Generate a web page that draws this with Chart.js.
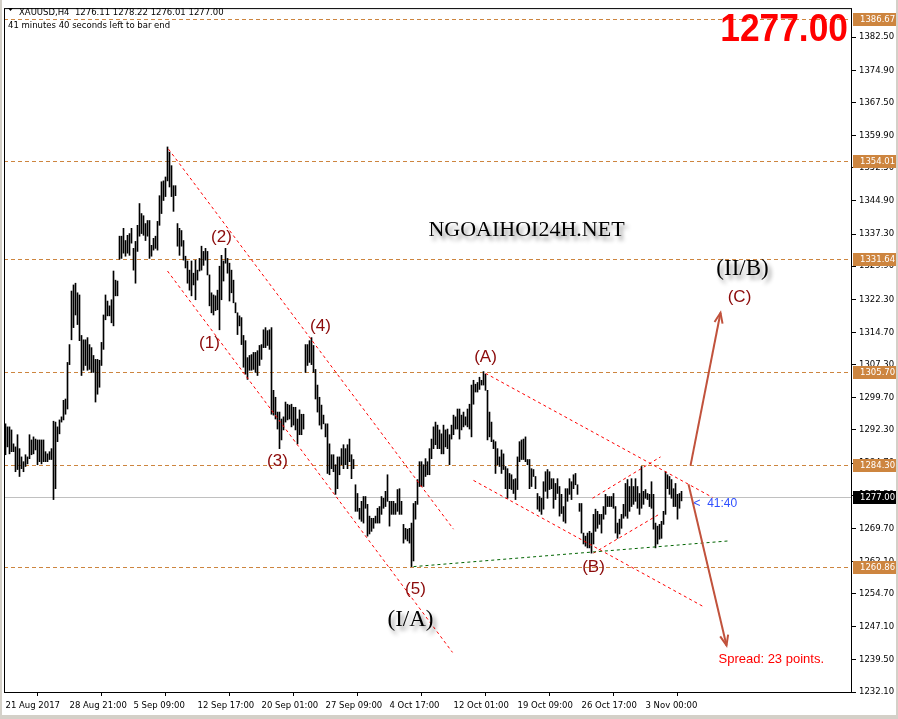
<!DOCTYPE html>
<html><head><meta charset="utf-8">
<script src="https://cdn.jsdelivr.net/npm/chart.js@4.4.1/dist/chart.umd.min.js"></script>
<style>
html,body{margin:0;padding:0;background:#fff;overflow:hidden;}
canvas{display:block;}
</style></head><body>
<canvas id="c" width="898" height="719"></canvas>
<script>
// ---- data (XAUUSD H4 bars: high / low) ----
const highs = [
1293.7,1293.0,1293.0,1292.3,1289.1,1288.4,1291.2,1288.0,1286.1,1285.0,
1286.6,1286.1,1291.2,1290.0,1290.7,1290.2,1290.0,1290.0,1290.0,1290.0,
1287.3,1286.8,1287.3,1288.0,1294.3,1294.1,1293.0,1294.6,1295.3,1299.1,
1299.4,1307.8,1311.9,1324.2,1325.6,1326.0,1323.8,1323.3,1314.0,1313.0,
1313.0,1313.5,1311.9,1311.2,1309.4,1308.5,1308.5,1308.3,1312.4,1318.7,
1323.3,1321.9,1320.8,1322.2,1328.8,1326.7,1326.5,1336.8,1336.8,1338.6,
1335.8,1337.0,1337.4,1338.6,1334.0,1335.6,1339.3,1344.3,1342.0,1341.5,
1339.7,1340.4,1340.4,1334.7,1336.3,1336.8,1340.2,1346.1,1349.3,1349.5,
1350.4,1357.3,1356.1,1353.0,1348.4,1348.4,1339.7,1338.6,1338.1,1335.8,
1332.2,1331.1,1329.0,1331.1,1328.3,1331.3,1329.0,1331.7,1334.5,1333.3,
1334.0,1333.3,1327.9,1323.8,1323.3,1323.1,1324.4,1329.9,1332.4,1331.1,
1334.0,1331.7,1330.6,1329.0,1326.7,1321.5,1319.2,1318.5,1318.1,1314.0,
1312.8,1308.9,1309.4,1309.6,1310.1,1310.1,1310.5,1311.7,1311.9,1315.3,
1315.8,1315.1,1315.3,1315.8,1301.4,1299.8,1296.4,1296.4,1294.8,1295.3,
1298.7,1298.2,1298.0,1298.2,1297.5,1297.5,1294.8,1296.9,1295.9,1295.9,
1311.9,1311.9,1312.8,1313.5,1311.7,1306.2,1302.6,1299.8,1298.0,1295.7,
1293.7,1293.7,1289.1,1286.6,1286.6,1284.3,1286.1,1286.1,1288.0,1288.9,
1288.0,1288.9,1290.2,1286.6,1285.5,1279.7,1277.7,1274.3,1275.9,1277.0,
1277.0,1275.2,1272.5,1272.0,1272.0,1272.5,1274.3,1274.7,1277.0,1276.6,
1278.2,1282.0,1275.9,1275.9,1275.9,1275.4,1278.6,1278.8,1275.9,1270.6,
1269.7,1269.5,1269.7,1270.9,1275.4,1275.9,1280.9,1285.0,1285.0,1284.3,
1285.7,1285.0,1288.0,1290.2,1293.0,1294.1,1293.4,1292.3,1291.4,1293.4,
1292.3,1292.5,1291.2,1293.4,1295.7,1295.3,1297.1,1297.1,1295.7,1296.4,
1295.3,1297.1,1298.2,1302.6,1303.7,1302.8,1303.2,1304.4,1303.7,1305.7,
1305.1,1301.4,1296.4,1294.1,1290.0,1289.6,1288.0,1286.1,1287.7,1286.8,
1283.9,1283.4,1282.3,1282.0,1280.9,1281.1,1286.1,1289.6,1290.0,1290.2,
1290.7,1285.5,1285.5,1283.4,1283.2,1281.6,1277.7,1277.0,1276.6,1280.4,
1282.7,1283.2,1282.7,1281.1,1281.1,1280.0,1281.1,1279.3,1277.5,1274.7,
1278.8,1278.8,1281.1,1280.4,1282.0,1282.3,1279.7,1275.4,1275.4,1268.6,
1267.9,1268.6,1269.0,1268.6,1272.9,1274.1,1273.6,1272.9,1272.9,1274.7,
1277.5,1277.0,1277.0,1277.0,1277.7,1274.7,1270.9,1271.8,1272.9,1275.2,
1280.0,1280.9,1279.3,1281.1,1279.3,1281.1,1279.3,1277.7,1283.9,1278.2,
1278.6,1277.7,1277.5,1280.4,1277.5,1270.9,1270.2,1270.6,1271.3,1273.6,
1282.7,1282.0,1281.6,1280.9,1278.8,1280.0,1277.5,1277.7,1278.2
];
const lows = [
1286.6,1288.4,1286.8,1287.3,1287.3,1282.7,1283.2,1281.6,1283.4,1282.7,
1283.9,1284.5,1285.7,1286.6,1286.8,1287.7,1284.3,1285.0,1284.5,1285.0,
1285.0,1285.0,1285.5,1285.5,1276.3,1278.8,1289.6,1291.4,1294.1,1294.6,
1295.9,1297.1,1307.3,1313.0,1315.8,1318.7,1316.5,1312.8,1304.8,1306.0,
1307.1,1306.0,1306.2,1305.5,1305.5,1298.7,1300.5,1302.1,1307.1,1310.8,
1317.6,1318.5,1318.5,1316.9,1316.2,1323.1,1323.1,1331.5,1331.7,1332.9,
1332.2,1332.9,1332.4,1335.2,1329.0,1326.0,1333.3,1336.8,1337.4,1337.0,
1335.8,1336.8,1331.7,1332.2,1333.6,1334.0,1333.6,1339.3,1342.0,1345.0,
1345.9,1349.5,1348.1,1345.9,1342.5,1346.1,1334.5,1332.4,1334.5,1331.3,
1329.5,1326.0,1324.4,1323.1,1325.6,1322.2,1326.7,1328.8,1329.0,1330.1,
1331.3,1327.9,1320.8,1319.2,1318.7,1319.7,1319.9,1315.3,1322.2,1326.5,
1330.6,1328.3,1321.9,1323.8,1321.5,1319.2,1314.2,1316.2,1311.9,1306.7,
1305.1,1303.9,1306.0,1306.0,1306.2,1305.5,1304.8,1307.1,1308.5,1311.2,
1311.2,1311.7,1310.8,1295.9,1295.7,1294.8,1292.5,1288.0,1290.0,1292.3,
1294.1,1294.6,1294.8,1293.0,1293.4,1292.3,1289.1,1291.2,1291.2,1292.5,
1305.5,1307.1,1307.8,1307.3,1305.5,1299.4,1296.4,1293.4,1292.5,1293.7,
1290.7,1282.3,1282.0,1283.4,1282.7,1277.5,1278.8,1282.0,1284.3,1283.4,
1284.3,1283.4,1285.0,1281.1,1283.4,1273.6,1273.6,1271.8,1271.3,1270.9,
1274.3,1267.9,1268.4,1269.0,1269.7,1270.9,1270.9,1270.9,1272.9,1274.3,
1274.7,1275.9,1270.2,1272.9,1272.9,1272.9,1273.6,1272.9,1272.9,1266.3,
1267.2,1266.8,1266.3,1260.9,1262.2,1271.8,1275.2,1279.3,1279.3,1279.3,
1281.6,1282.0,1282.0,1285.7,1288.0,1288.9,1288.0,1288.0,1286.8,1286.8,
1288.4,1288.0,1284.3,1290.2,1291.2,1292.5,1292.5,1290.2,1292.3,1293.0,
1293.4,1293.0,1292.5,1290.7,1298.2,1301.0,1301.0,1301.6,1302.6,1302.6,
1301.4,1290.0,1290.7,1289.6,1288.0,1282.3,1284.3,1283.9,1282.3,1283.2,
1278.8,1276.6,1278.8,1278.6,1277.7,1276.3,1278.6,1285.0,1285.5,1285.5,
1285.0,1284.3,1278.8,1279.3,1281.6,1278.8,1274.1,1273.6,1272.9,1274.1,
1278.2,1276.6,1278.6,1278.8,1274.3,1276.3,1277.7,1272.5,1273.1,1271.3,
1270.9,1275.9,1277.5,1276.3,1278.8,1279.7,1277.5,1273.6,1268.6,1266.1,
1265.6,1265.2,1265.2,1264.0,1266.1,1269.0,1269.7,1270.6,1268.6,1271.8,
1272.9,1274.7,1274.7,1274.7,1274.3,1268.6,1267.4,1268.4,1269.7,1272.0,
1272.5,1272.0,1273.6,1274.7,1275.2,1275.9,1274.3,1272.9,1274.3,1275.2,
1276.6,1276.3,1274.7,1274.3,1269.5,1265.2,1266.1,1267.2,1267.4,1270.6,
1272.9,1278.8,1277.5,1276.6,1274.7,1274.7,1271.8,1274.3,1276.0
];
// time axis: bar index of each label and its text
const timeTickIdx = [0,32,64,96,128,160,192,224,256,288,320];
const timeTickLabels = ['21 Aug 2017','28 Aug 21:00','5 Sep 09:00','12 Sep 17:00','20 Sep 01:00','27 Sep 09:00','4 Oct 17:00','12 Oct 01:00','19 Oct 09:00','26 Oct 17:00','3 Nov 00:00'];
// price axis ticks
const priceTicks = [1232.10,1239.50,1247.10,1254.70,1262.10,1269.70,1277.30,1284.70,1292.30,1299.70,1307.30,1314.70,1322.30,1329.90,1337.30,1344.90,1352.50,1359.90,1367.50,1374.90,1382.50];
// horizontal levels and last price
const levelPrices = [1386.67,1354.01,1331.64,1305.70,1284.30,1260.86];
const lastPrice = 1277.00;
const ohlcTitle = ['1276.11','1278.22','1276.01','1277.00'];
// trend lines [barIdx1, price1, barIdx2, price2]
const redTrendLines = [
  [81.5,1356.8,224,1269.5],
  [81,1328.8,223.5,1241.2],
  [240,1305.3,353.5,1276.8],
  [234,1280.7,349,1251.7],
  [293.5,1276.6,327.5,1286.1],
  [294,1264.0,327.5,1273.1]
];
const greenLine = [204,1260.9,361.5,1266.8];
const arrowLines = [
  [342.5,1284.1,357.5,1319.2],
  [341.5,1279.8,360.5,1242.8]
];
// wave labels [text, barIdx, price]
const waveLabels = [
  ['(1)',102,1312.1],['(2)',108,1336.5],['(3)',136,1285.2],['(4)',157.5,1316.2],
  ['(5)',205,1255.6],['(A)',240,1309.0],['(B)',294,1260.8],['(C)',367,1322.8]
];
const bigLabels = [['(I/A)',202.5,1248.6],['(II/B)',368.5,1329.2]];
const watermark = ['NGOAIHOI24H.NET',260.5,1338.1];
const timerLabel = ['<  41:40',344,1275.3];
const spreadLabel = ['Spread: 23 points.',356.5,1239.6];

const bars = highs.map((h,i)=>({x:i, y:[lows[i], h]}));

const UI_FONT = '"DejaVu Sans", Tahoma, sans-serif';

const mt4 = {
  id:'mt4',
  beforeDatasetsDraw(chart){
    const {ctx, chartArea:a, scales:{x,y}} = chart;
    ctx.save();
    ctx.beginPath(); ctx.rect(a.left,a.top,a.right-a.left,a.bottom-a.top); ctx.clip();
    let yy = Math.round(y.getPixelForValue(lastPrice))+0.5;
    ctx.strokeStyle='#c0c0c0'; ctx.lineWidth=1;
    ctx.beginPath(); ctx.moveTo(a.left,yy); ctx.lineTo(a.right,yy); ctx.stroke();
    ctx.strokeStyle='#cd853f'; ctx.setLineDash([4,3]);
    levelPrices.forEach(p=>{
      const yv = Math.round(y.getPixelForValue(p))+0.5;
      ctx.beginPath(); ctx.moveTo(a.left,yv); ctx.lineTo(a.right,yv); ctx.stroke();
    });
    ctx.restore();
  },
  afterDatasetsDraw(chart){
    const {ctx, chartArea:a, scales:{x,y}} = chart;
    const P = (i,p)=>[x.getPixelForValue(i), y.getPixelForValue(p)];
    ctx.save();
    ctx.beginPath(); ctx.rect(a.left,a.top,a.right-a.left,a.bottom-a.top); ctx.clip();
    ctx.strokeStyle='#ff0000'; ctx.lineWidth=1; ctx.setLineDash([3,3]);
    redTrendLines.forEach(l=>{
      const [x1,y1]=P(l[0],l[1]), [x2,y2]=P(l[2],l[3]);
      ctx.beginPath(); ctx.moveTo(x1,y1); ctx.lineTo(x2,y2); ctx.stroke();
    });
    ctx.strokeStyle='#006400'; ctx.setLineDash([3,3]);
    {
      const [x1,y1]=P(greenLine[0],greenLine[1]), [x2,y2]=P(greenLine[2],greenLine[3]);
      ctx.beginPath(); ctx.moveTo(x1,y1); ctx.lineTo(x2,y2); ctx.stroke();
    }
    ctx.setLineDash([]); ctx.strokeStyle='#c1523c'; ctx.lineWidth=2;
    arrowLines.forEach(l=>{
      const [x1,y1]=P(l[0],l[1]), [x2,y2]=P(l[2],l[3]);
      ctx.beginPath(); ctx.moveTo(x1,y1); ctx.lineTo(x2,y2); ctx.stroke();
      const ang = Math.atan2(y2-y1,x2-x1), L=11, s=0.38;
      ctx.beginPath();
      ctx.moveTo(x2-L*Math.cos(ang-s), y2-L*Math.sin(ang-s));
      ctx.lineTo(x2,y2);
      ctx.lineTo(x2-L*Math.cos(ang+s), y2-L*Math.sin(ang+s));
      ctx.stroke();
    });
    ctx.textAlign='center'; ctx.textBaseline='middle';
    ctx.fillStyle='#8b0a0a';
    ctx.font = '17px "Liberation Sans", Arial, sans-serif';
    waveLabels.forEach(w=>{
      const [px,py]=P(w[1],w[2]);
      ctx.fillText(w[0],px,py);
    });
    ctx.save();
    ctx.shadowColor='rgba(0,0,0,0.45)'; ctx.shadowBlur=4; ctx.shadowOffsetX=3; ctx.shadowOffsetY=4;
    ctx.fillStyle='#000';
    ctx.font='23px "Liberation Serif", "Times New Roman", serif';
    bigLabels.forEach(b=>{ const [px,py]=P(b[1],b[2]); ctx.fillText(b[0],px,py); });
    ctx.font='22px "Liberation Serif", "Times New Roman", serif';
    { const [px,py]=P(watermark[1],watermark[2]); ctx.fillText(watermark[0],px,py); }
    ctx.restore();
    ctx.textAlign='left';
    ctx.font='12px "Liberation Sans", Arial, sans-serif';
    ctx.fillStyle='#2f4fff';
    { const [px,py]=P(timerLabel[1],timerLabel[2]); ctx.fillText(timerLabel[0],px,py); }
    ctx.fillStyle='#ff0000';
    ctx.font='13px "Liberation Sans", Arial, sans-serif';
    { const [px,py]=P(spreadLabel[1],spreadLabel[2]); ctx.fillText(spreadLabel[0],px,py); }
    ctx.restore();
  },
  afterDraw(chart){
    const {ctx, chartArea:a, scales:{y}} = chart;
    ctx.save();
    ctx.strokeStyle='#000'; ctx.lineWidth=1; ctx.setLineDash([]);
    ctx.strokeRect(a.left+0.5, a.top+0.5, a.right-a.left-1, a.bottom-a.top);
    ctx.fillStyle='#d4d0c8';
    ctx.fillRect(0,0,2,719); ctx.fillRect(0,715,898,4); ctx.fillRect(896,0,2,719);
    ctx.font='8.5px '+UI_FONT; ctx.textBaseline='middle'; ctx.textAlign='left';
    const box=(p,bg)=>{
      const yv=Math.round(y.getPixelForValue(p));
      ctx.fillStyle=bg; ctx.fillRect(a.right+1, yv-6, 43, 13);
      ctx.fillStyle='#fff'; ctx.fillText(p.toFixed(2), a.right+8, yv+0.5);
    };
    levelPrices.forEach(p=>box(p,'#cd853f'));
    box(lastPrice,'#000');
    ctx.fillStyle='#000'; ctx.font='8.5px '+UI_FONT; ctx.textBaseline='alphabetic';
    ctx.beginPath(); ctx.moveTo(8,8); ctx.lineTo(13,8); ctx.lineTo(10.5,11); ctx.closePath(); ctx.fill();
    ctx.fillText('XAUUSD,H4  '+ohlcTitle.join(' '), 19, 15);
    ctx.fillText('41 minutes 40 seconds left to bar end', 8, 28);
    ctx.save();
    ctx.fillStyle='#ff0000'; ctx.font='bold 38px "Liberation Sans", Arial, sans-serif';
    ctx.textAlign='right';
    ctx.translate(848,41); ctx.scale(0.93,1);
    ctx.fillText(lastPrice.toFixed(2),0,0);
    ctx.restore();
    ctx.restore();
  }
};

new Chart(document.getElementById('c'),{
  type:'bar',
  data:{datasets:[{data:bars, backgroundColor:'#000', borderWidth:0, barThickness:1, minBarLength:1, borderSkipped:false}]},
  options:{
    responsive:false, animation:false, devicePixelRatio:1,
    layout:{padding:{left:4,top:3,right:0,bottom:0}},
    plugins:{legend:{display:false},tooltip:{enabled:false}},
    scales:{
      x:{type:'linear', min:-0.75, max:423.25, offset:false,
        afterBuildTicks:s=>{s.ticks=timeTickIdx.map(v=>({value:v}));},
        afterFit:s=>{s.height=27;},
        grid:{display:true, drawOnChartArea:false, drawTicks:true, tickLength:4, color:'#000'},
        border:{display:false},
        ticks:{autoSkip:false, maxRotation:0, align:'start', padding:5, color:'#000',
          font:{family:UI_FONT,size:8.5},
          callback:v=>timeTickLabels[timeTickIdx.indexOf(v)]}
      },
      y:{type:'linear', position:'right', min:1232.1, max:1389.19,
        afterBuildTicks:s=>{s.ticks=priceTicks.map(v=>({value:v}));},
        afterFit:s=>{s.width=46;},
        grid:{display:true, drawOnChartArea:false, drawTicks:true, tickLength:4, color:'#000'},
        border:{display:false},
        ticks:{autoSkip:false, padding:3, color:'#000', font:{family:UI_FONT,size:8.5},
          callback:v=>Number(v).toFixed(2)}
      }
    }
  },
  plugins:[mt4]
});
</script>
</body></html>
